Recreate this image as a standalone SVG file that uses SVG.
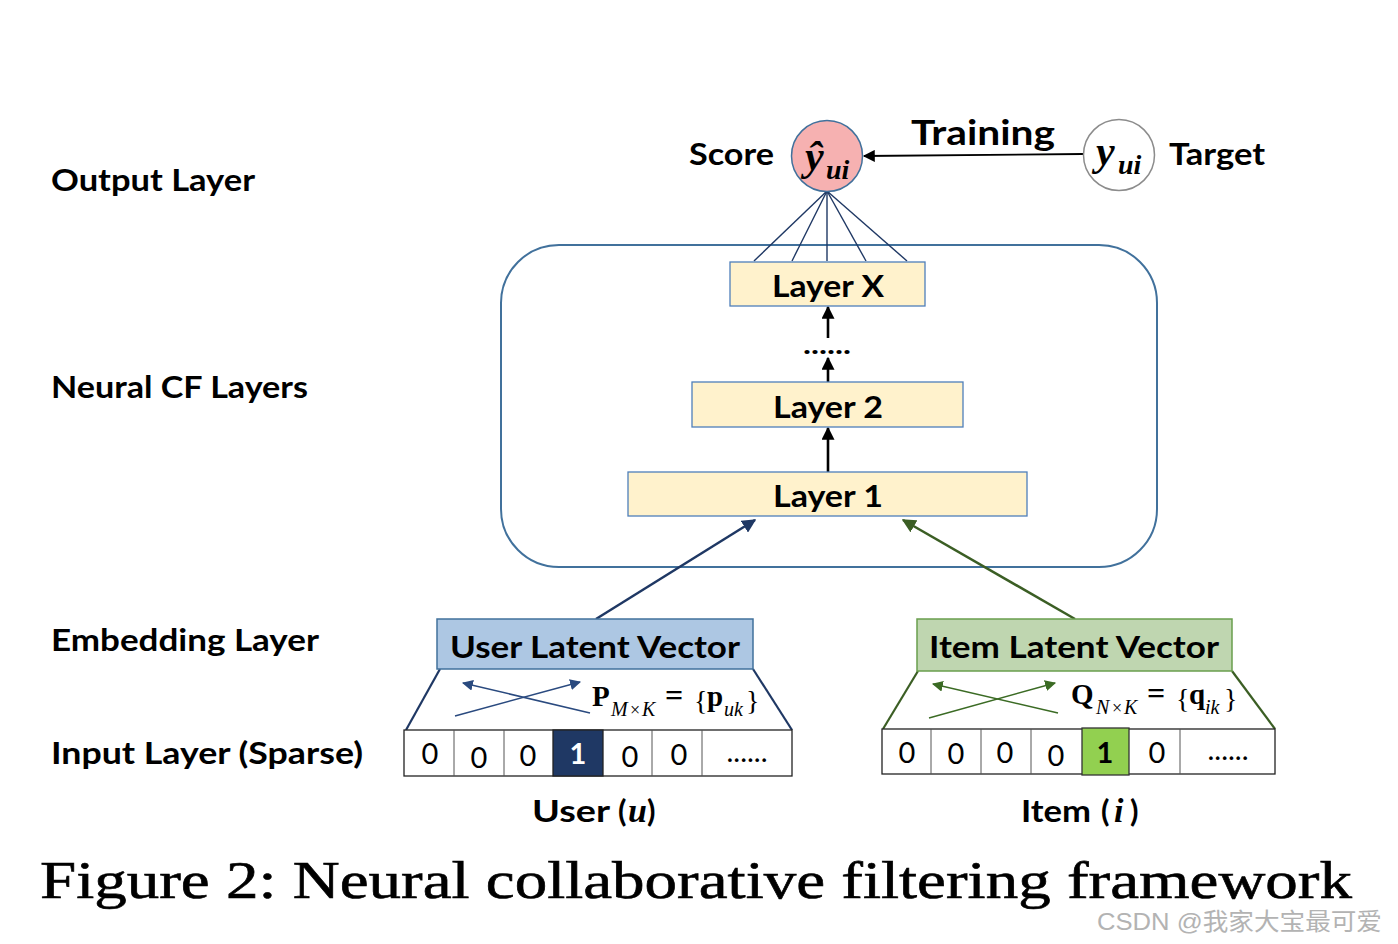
<svg xmlns="http://www.w3.org/2000/svg" width="1398" height="944" viewBox="0 0 1398 944">
<style>
.lbl{font-family:Lato,"Open Sans","Liberation Sans",sans-serif;font-weight:700;fill:#000}
.num{font-family:Lato,"Open Sans","Liberation Sans",sans-serif;font-size:29px;fill:#000;text-anchor:middle}
.math{font-family:"Liberation Serif","Times New Roman",serif;fill:#000}
.layer{fill:#fff2cc;stroke:#4f7fba;stroke-width:1.3}
.cell{fill:#fff;stroke:#222;stroke-width:1.3}
.sep{stroke:#555;stroke-width:1}
</style>
<defs>
<marker id="ablack" viewBox="0 0 10 10" refX="9" refY="5" markerWidth="13" markerHeight="13" orient="auto" markerUnits="userSpaceOnUse"><path d="M0,0 L10,5 L0,10 z" fill="#000"/></marker>
<marker id="ablack2" viewBox="0 0 10 10" refX="9" refY="5" markerWidth="13" markerHeight="12" orient="auto" markerUnits="userSpaceOnUse"><path d="M0,0 L10,5 L0,10 z" fill="#000"/></marker>
<marker id="anavy" viewBox="0 0 10 10" refX="9" refY="5" markerWidth="14" markerHeight="14" orient="auto" markerUnits="userSpaceOnUse"><path d="M0,0 L10,5 L0,10 z" fill="#1f3864"/></marker>
<marker id="agreen" viewBox="0 0 10 10" refX="9" refY="5" markerWidth="14" markerHeight="14" orient="auto" markerUnits="userSpaceOnUse"><path d="M0,0 L10,5 L0,10 z" fill="#3b5e24"/></marker>
<marker id="anavys" viewBox="0 0 10 10" refX="9" refY="5" markerWidth="11" markerHeight="11" orient="auto" markerUnits="userSpaceOnUse"><path d="M0,0 L10,5 L0,10 z" fill="#2a4a7f"/></marker>
<marker id="agreens" viewBox="0 0 10 10" refX="9" refY="5" markerWidth="11" markerHeight="11" orient="auto" markerUnits="userSpaceOnUse"><path d="M0,0 L10,5 L0,10 z" fill="#3b6b24"/></marker>
</defs>
<rect width="1398" height="944" fill="#fff"/>

<g id="row-labels">
<text class="lbl" x="51" y="191" font-size="30" textLength="204" lengthAdjust="spacingAndGlyphs">Output Layer</text>
<text class="lbl" x="51" y="398" font-size="30" textLength="257" lengthAdjust="spacingAndGlyphs">Neural CF Layers</text>
<text class="lbl" x="51" y="651" font-size="30" textLength="268" lengthAdjust="spacingAndGlyphs">Embedding Layer</text>
<text class="lbl" x="51" y="764" font-size="30" textLength="312" lengthAdjust="spacingAndGlyphs">Input Layer (Sparse)</text>
</g>

<g id="ncf-frame">
<rect x="501" y="245" width="656" height="322" rx="58" ry="58" fill="none" stroke="#41719c" stroke-width="2"/>
</g>

<g id="connectors">
<g stroke="#1f3864" stroke-width="1.4" fill="none">
<line x1="827" y1="191" x2="754" y2="261"/>
<line x1="827" y1="191" x2="792" y2="261"/>
<line x1="827" y1="191" x2="827" y2="261"/>
<line x1="827" y1="191" x2="866" y2="261"/>
<line x1="827" y1="191" x2="907" y2="261"/>
</g>
<circle cx="827" cy="191" r="2.5" fill="#1f3864"/>
<line x1="1083" y1="154" x2="864" y2="156" stroke="#000" stroke-width="1.8" marker-end="url(#ablack2)"/>
<line x1="828" y1="338" x2="828" y2="307" stroke="#000" stroke-width="2.6" marker-end="url(#ablack)"/>
<line x1="828" y1="382" x2="828" y2="358" stroke="#000" stroke-width="2.6" marker-end="url(#ablack)"/>
<line x1="828" y1="472" x2="828" y2="428" stroke="#000" stroke-width="2.6" marker-end="url(#ablack)"/>
<line x1="596" y1="619" x2="755" y2="520" stroke="#1f3864" stroke-width="2.5" marker-end="url(#anavy)"/>
<line x1="1075" y1="619" x2="903" y2="520" stroke="#3b5e24" stroke-width="2.5" marker-end="url(#agreen)"/>
<g stroke="#1f3864" stroke-width="2.2">
<line x1="440" y1="669" x2="406" y2="730"/>
<line x1="753" y1="669" x2="792" y2="730"/>
</g>
<g stroke="#3b5e24" stroke-width="2.2">
<line x1="918" y1="671" x2="883" y2="729"/>
<line x1="1232" y1="671" x2="1275" y2="729"/>
</g>
<line x1="455" y1="716" x2="580" y2="682" stroke="#2a4a7f" stroke-width="1.5" marker-end="url(#anavys)"/>
<line x1="590" y1="713" x2="463" y2="683" stroke="#2a4a7f" stroke-width="1.5" marker-end="url(#anavys)"/>
<line x1="929" y1="718" x2="1055" y2="683" stroke="#3b6b24" stroke-width="1.5" marker-end="url(#agreens)"/>
<line x1="1058" y1="713" x2="933" y2="684" stroke="#3b6b24" stroke-width="1.5" marker-end="url(#agreens)"/>
</g>

<g id="score">
<circle cx="827" cy="156" r="35.5" fill="#f6b1b1" stroke="#41719c" stroke-width="1.5"/>
<text class="math" x="805" y="170" font-size="42" font-weight="700" font-style="italic">ŷ</text>
<text class="math" x="826" y="179" font-size="28" font-weight="700" font-style="italic">ui</text>
<text class="lbl" x="689" y="165" font-size="30" textLength="85" lengthAdjust="spacingAndGlyphs">Score</text>
</g>

<g id="target">
<circle cx="1119" cy="155" r="35.5" fill="#fff" stroke="#8c8c8c" stroke-width="1.5"/>
<text class="math" x="1096" y="165" font-size="42" font-weight="700" font-style="italic">y</text>
<text class="math" x="1118" y="174" font-size="28" font-weight="700" font-style="italic">ui</text>
<text class="lbl" x="1169" y="165" font-size="30" textLength="96" lengthAdjust="spacingAndGlyphs">Target</text>
</g>

<g id="training-label">
<text class="lbl" x="911" y="145" font-size="35" textLength="144" lengthAdjust="spacingAndGlyphs">Training</text>
</g>

<g id="layer-x">
<rect class="layer" x="730" y="262" width="195" height="44"/>
<text class="lbl" x="772" y="297" font-size="31" textLength="112" lengthAdjust="spacingAndGlyphs">Layer X</text>
</g>
<g id="dots">
<text class="lbl" x="803" y="354" font-size="26" textLength="48" lengthAdjust="spacingAndGlyphs">......</text>
</g>
<g id="layer-2">
<rect class="layer" x="692" y="382" width="271" height="45"/>
<text class="lbl" x="773" y="418" font-size="31" textLength="110" lengthAdjust="spacingAndGlyphs">Layer 2</text>
</g>
<g id="layer-1">
<rect class="layer" x="628" y="472" width="399" height="44"/>
<text class="lbl" x="773" y="507" font-size="31" textLength="110" lengthAdjust="spacingAndGlyphs">Layer 1</text>
</g>

<g id="user-latent">
<rect x="437" y="619" width="316" height="50" fill="#adc7e3" stroke="#41719c" stroke-width="1.5"/>
<text class="lbl" x="450" y="658" font-size="30" textLength="290" lengthAdjust="spacingAndGlyphs">User Latent Vector</text>
</g>
<g id="item-latent">
<rect x="917" y="619" width="315" height="52" fill="#bfd6b0" stroke="#6a9e4e" stroke-width="1.5"/>
<text class="lbl" x="929" y="658" font-size="30" textLength="290" lengthAdjust="spacingAndGlyphs">Item Latent Vector</text>
</g>

<g id="user-matrix">
<text class="math" x="592" y="706" font-size="29" font-weight="700">P</text>
<text class="math" x="611" y="716" font-size="20" font-style="italic">M</text>
<text class="math" x="630" y="716" font-size="18">×</text>
<text class="math" x="642" y="716" font-size="20" font-style="italic">K</text>
<text class="math" x="665" y="706" font-size="32" font-weight="700">=</text>
<text class="math" x="694" y="710" font-size="28">{</text>
<text class="math" x="707" y="706" font-size="29" font-weight="700">p</text>
<text class="math" x="724" y="716" font-size="20" font-style="italic">uk</text>
<text class="math" x="746" y="710" font-size="28">}</text>
</g>
<g id="item-matrix">
<text class="math" x="1071" y="704" font-size="29" font-weight="700">Q</text>
<text class="math" x="1096" y="714" font-size="20" font-style="italic">N</text>
<text class="math" x="1112" y="714" font-size="18">×</text>
<text class="math" x="1124" y="714" font-size="20" font-style="italic">K</text>
<text class="math" x="1147" y="704" font-size="32" font-weight="700">=</text>
<text class="math" x="1176" y="708" font-size="28">{</text>
<text class="math" x="1189" y="704" font-size="29" font-weight="700">q</text>
<text class="math" x="1205" y="714" font-size="20" font-style="italic">ik</text>
<text class="math" x="1224" y="708" font-size="28">}</text>
</g>

<g id="user-input">
<rect class="cell" x="404" y="730" width="388" height="46"/>
<g class="sep">
<line x1="454" y1="730" x2="454" y2="776"/>
<line x1="504" y1="730" x2="504" y2="776"/>
<line x1="652" y1="730" x2="652" y2="776"/>
<line x1="702" y1="730" x2="702" y2="776"/>
</g>
<rect x="553" y="730" width="50" height="46" fill="#1f3864" stroke="#222" stroke-width="1.3"/>
<text class="num" x="430" y="764">0</text>
<text class="num" x="479" y="768">0</text>
<text class="num" x="528" y="766">0</text>
<text class="num" x="578" y="764" font-weight="700" style="fill:#fff">1</text>
<text class="num" x="630" y="767">0</text>
<text class="num" x="679" y="765">0</text>
<text class="num" x="747" y="762" font-size="22">......</text>
</g>

<g id="item-input">
<rect class="cell" x="882" y="729" width="393" height="45"/>
<g class="sep">
<line x1="931" y1="729" x2="931" y2="774"/>
<line x1="981" y1="729" x2="981" y2="774"/>
<line x1="1031" y1="729" x2="1031" y2="774"/>
<line x1="1180" y1="729" x2="1180" y2="774"/>
</g>
<rect x="1082" y="728" width="47" height="47" fill="#92d050" stroke="#333" stroke-width="1.3"/>
<text class="num" x="907" y="763">0</text>
<text class="num" x="956" y="764">0</text>
<text class="num" x="1005" y="763">0</text>
<text class="num" x="1056" y="766">0</text>
<text class="num" x="1105" y="763" font-weight="700">1</text>
<text class="num" x="1157" y="763">0</text>
<text class="num" x="1228" y="760" font-size="22">......</text>
</g>

<g id="user-caption">
<text class="lbl" x="532" y="822" font-size="31" textLength="78" lengthAdjust="spacingAndGlyphs">User</text>
<text class="lbl" x="618" y="822" font-size="31">(</text>
<text class="math" x="628" y="822" font-size="34" font-style="italic" font-weight="700">u</text>
<text class="lbl" x="647" y="822" font-size="31">)</text>
</g>
<g id="item-caption">
<text class="lbl" x="1021" y="822" font-size="31" textLength="70" lengthAdjust="spacingAndGlyphs">Item</text>
<text class="lbl" x="1101" y="822" font-size="31">(</text>
<text class="math" x="1114" y="822" font-size="34" font-style="italic" font-weight="700">i</text>
<text class="lbl" x="1130" y="822" font-size="31">)</text>
</g>

<g id="figure-caption">
<text x="40" y="898" font-family="'Liberation Serif','Times New Roman',serif" font-size="52" fill="#000" stroke="#000" stroke-width="0.6" textLength="1312" lengthAdjust="spacingAndGlyphs">Figure 2:  Neural collaborative filtering framework</text>
</g>

<g id="watermark">
<text x="1097" y="930" font-family="'Liberation Sans','Noto Sans CJK SC',sans-serif" font-size="24" fill="#b3b3b3" textLength="285" lengthAdjust="spacingAndGlyphs">CSDN @我家大宝最可爱</text>
</g>
</svg>
